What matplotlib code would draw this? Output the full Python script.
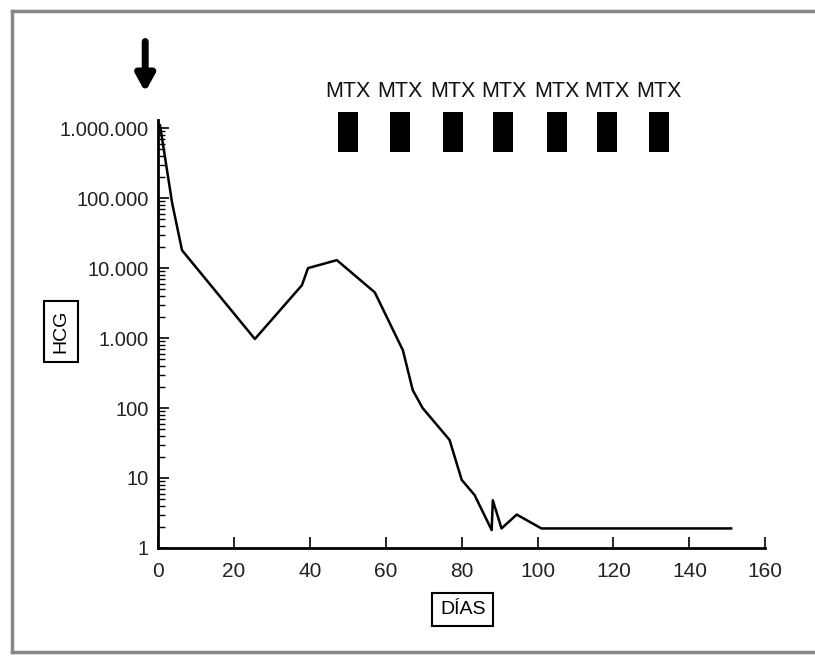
import matplotlib
matplotlib.use("Agg")
from matplotlib import pyplot as plt
from matplotlib.lines import Line2D
from matplotlib.ticker import FixedLocator, LogLocator, NullFormatter

plt.rcParams['font.family'] = ['Liberation Sans', 'DejaVu Sans']

# hCG curve (days, value)
dias = [0.5, 3.7, 6.3, 25.5, 37.9, 39.5, 47.1, 57.1, 64.5, 67.1, 69.7,
        76.8, 80.0, 83.4, 87.9, 88.2, 90.5, 94.5, 101.0, 151.0]
hcg = [1100000, 85000, 18000, 970, 5700, 10000, 13000, 4500, 670, 180, 100,
       35, 9.4, 5.7, 1.8, 4.8, 1.9, 3.0, 1.9, 1.9]

# methotrexate courses (day at the centre of each bar)
mtx_dias = [50, 63.7, 77.6, 91, 105, 118.4, 132]
mtx_label = "MTX"

y_ticks = [1, 10, 100, 1000, 10000, 100000, 1000000]
y_labels = ["1", "10", "100", "1.000", "10.000", "100.000", "1.000.000"]
x_ticks = [0, 20, 40, 60, 80, 100, 120, 140, 160]

fig = plt.figure(figsize=(8.15, 6.57), dpi=100)
ax = fig.add_axes([0.194, 0.166, 0.745, 0.651])

ax.plot(dias, hcg, color="black", linewidth=1.8)

ax.set_yscale("log")
ax.set_xlim(0, 160)
ax.set_ylim(1, 1.3e6)
ax.yaxis.set_major_locator(FixedLocator(y_ticks))
ax.set_yticklabels(y_labels)
ax.yaxis.set_minor_locator(LogLocator(base=10, subs=range(2, 10)))
ax.yaxis.set_minor_formatter(NullFormatter())
ax.set_xticks(x_ticks)

for s in ["top", "right"]:
    ax.spines[s].set_visible(False)
for s in ["left", "bottom"]:
    ax.spines[s].set_linewidth(2)
    ax.spines[s].set_color("black")

ax.tick_params(axis="both", which="major", direction="in", length=8, width=1.2,
               colors="black", labelcolor="#222222")
ax.tick_params(axis="x", labelsize=15, pad=10)
ax.tick_params(axis="y", labelsize=14.5, pad=7)
ax.tick_params(axis="y", which="minor", direction="in", length=5, width=1.0)

# MTX bars and labels above the plot
ax.bar(mtx_dias, [1.7e6 - 4.5e5] * len(mtx_dias), bottom=4.5e5, width=5.3,
       color="black", clip_on=False)
for d in mtx_dias:
    ax.text(d, 3.3e6, mtx_label, ha="center", va="center", fontsize=15.5,
            color="#111111")

# arrow marking day 0
ax.annotate("", xy=(-3.4, 3.0e6), xytext=(-3.4, 1.9e7), xycoords="data",
            arrowprops=dict(arrowstyle="-|>,head_width=0.55,head_length=1.0",
                            color="black", linewidth=5), annotation_clip=False)

fig.text(0.075, 0.496, "HCG", rotation=90, ha="center", va="center", fontsize=14,
         bbox=dict(boxstyle="square,pad=0.45", facecolor="white", edgecolor="black", linewidth=1.5))
fig.text(0.568, 0.072, "DÍAS", ha="center", va="center", fontsize=14,
         bbox=dict(boxstyle="square,pad=0.4", facecolor="white", edgecolor="black", linewidth=1.5))

# scan frame
frame = dict(color="#888888", linewidth=2.5, transform=fig.transFigure)
fig.add_artist(Line2D([0.015, 0.015], [0.008, 0.984], **frame))
fig.add_artist(Line2D([0.015, 1.0], [0.984, 0.984], **frame))
fig.add_artist(Line2D([0.015, 1.0], [0.008, 0.008], **frame))

fig.savefig("out.png", dpi=100)
